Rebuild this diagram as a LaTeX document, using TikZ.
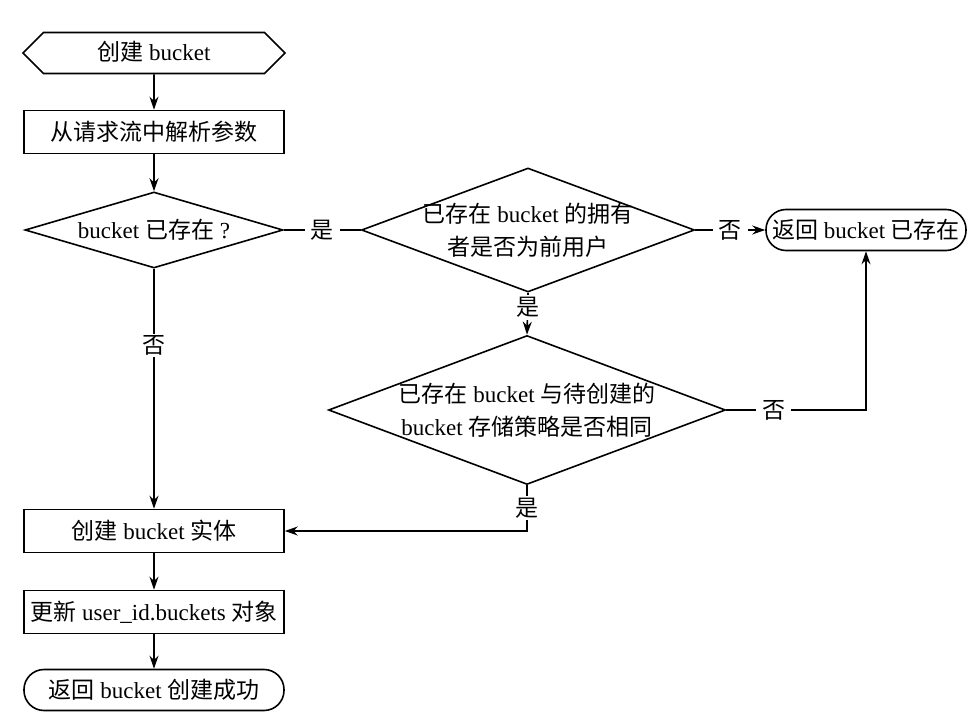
\documentclass[tikz,border=0pt]{standalone}
\usepackage{fontspec}
\setmainfont{Liberation Serif}
\newfontfamily\cjk{Noto Sans CJK SC}
\usetikzlibrary{shapes.geometric,shapes.misc,arrows.meta}
\newcommand{\nowide}[1]{\makebox[0pt]{#1}}
\begin{document}
\begin{tikzpicture}[x=1pt,y=-1pt,line width=1.6pt,
  font=\fontsize{23}{33}\selectfont,
  begin/.style={chamfered rectangle, chamfered rectangle xsep=21pt, chamfered rectangle ysep=20.5pt, draw=black, minimum width=262pt, inner sep=0pt, text height=0pt, text depth=0pt},
  proc/.style={rectangle, draw=black, minimum width=260pt, minimum height=43pt, inner sep=0pt},
  term/.style={rectangle, rounded corners=20pt, draw=black, minimum height=41pt, inner sep=0pt},
  decision/.style={diamond, draw=black, inner sep=0pt, align=center},
  lbl/.style={fill=white, inner xsep=6pt, inner ysep=2pt},
  flow/.style={-{Stealth[length=13pt,width=9pt]}}]
\useasboundingbox (0,0) rectangle (972,719);
\node [begin] (start) at (154,53) {\raisebox{-0.33em}{{\cjk 创建} bucket}};
\node [proc] (parse) at (154,132) {\cjk 从请求流中解析参数};
\node [decision, minimum width=258pt, minimum height=76pt] (exists) at (154,230) {\nowide{bucket {\cjk 已存在} ?}};
\node [decision, minimum width=333pt, minimum height=124pt] (owner) at (528,230) {\nowide{{\cjk 已存在} bucket {\cjk 的拥有}}\\\nowide{\cjk 者是否为前用户}};
\node [term, minimum width=200pt] (exist) at (866,230) {{\cjk 返回} bucket {\cjk 已存在}};
\node [decision, minimum width=397pt, minimum height=149pt] (policy) at (527,410) {\nowide{{\cjk 已存在} bucket {\cjk 与待创建的}}\\\nowide{bucket {\cjk 存储策略是否相同}}};
\node [proc] (create) at (154,531) {{\cjk 创建} bucket {\cjk 实体}};
\node [proc] (update) at (154,612) {{\cjk 更新} user\_id.buckets {\cjk 对象}};
\node [term, minimum width=260pt] (done) at (154,690) {{\cjk 返回} bucket {\cjk 创建成功}};
% main line
\draw [flow] (start) -- (parse);
\draw [flow] (parse) -- (exists);
\draw [flow] (exists.south) -- node [lbl, pos=0.32] {\cjk 否} (create.north);
\draw [flow] (create) -- (update);
\draw [flow] (update) -- (done);
% checks on the right
\draw (exists.east) -- node [lbl] {\cjk 是} (owner.west);
\draw [flow] (owner.east) -- node [lbl] {\cjk 否} (exist.west);
\draw [flow] (owner.south) -- node [lbl, pos=0.35] {\cjk 是} (policy.north);
\draw [flow] (policy.east) -| node [lbl, pos=0.17] {\cjk 否} (exist.south);
\draw [flow] (policy.south) |- node [lbl, pos=0.25] {\cjk 是} (create.east);
\end{tikzpicture}
\end{document}
